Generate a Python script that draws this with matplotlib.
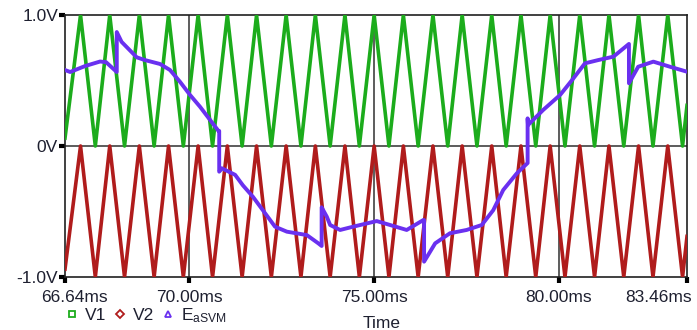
import matplotlib.pyplot as plt
import matplotlib.transforms as mtransforms
from matplotlib.lines import Line2D

plt.rcParams['font.family'] = ['Liberation Sans', 'DejaVu Sans']
plt.rcParams['mathtext.fontset'] = 'custom'
plt.rcParams['mathtext.rm'] = 'Liberation Sans'
plt.rcParams['mathtext.it'] = 'Liberation Sans'

# --- carrier vertices (ms) ---
carrier_t = [66.64, 67.06, 67.46, 67.85, 68.25, 68.65, 69.05, 69.44, 69.84,
             70.24, 70.63, 71.03, 71.43, 71.82, 72.22, 72.62, 73.02, 73.41,
             73.81, 74.21, 74.60, 75.00, 75.40, 75.79, 76.19, 76.59, 76.99,
             77.38, 77.78, 78.18, 78.57, 78.97, 79.37, 79.76, 80.16, 80.56,
             80.96, 81.35, 81.75, 82.15, 82.54, 82.94, 83.34, 83.46]
v1_vals = [0.06, 1, 0, 1, 0, 1, 0, 1, 0, 1, 0, 1, 0, 1, 0, 1, 0, 1, 0, 1, 0, 1,
           0, 1, 0, 1, 0, 1, 0, 1, 0, 1, 0, 1, 0, 1, 0, 1, 0, 1, 0, 1, 0, 0.31]
v2_vals = [-0.94, 0, -1, 0, -1, 0, -1, 0, -1, 0, -1, 0, -1, 0, -1, 0, -1, 0, -1,
           0, -1, 0, -1, 0, -1, 0, -1, 0, -1, 0, -1, 0, -1, 0, -1, 0, -1, 0, -1,
           0, -1, 0, -1, -0.69]

# --- E_aSVM trace ---
e_t = [66.64, 66.78, 67.18, 67.59, 67.75, 68.04, 68.04, 68.17, 68.58, 68.80,
       69.21, 69.48, 69.75, 70.02, 70.29, 70.56, 70.79, 70.81, 70.81, 70.88,
       71.24, 71.45, 71.72, 71.99, 72.32, 72.64, 73.18, 73.49, 73.58, 73.58,
       73.72, 73.81, 74.08, 74.43, 75.07, 75.43, 75.88, 76.33, 76.35, 76.35,
       76.65, 77.05, 77.50, 77.91, 78.22, 78.49, 78.86, 79.15, 79.15, 79.16,
       79.57, 80.03, 80.39, 80.70, 81.06, 81.47, 81.89, 81.89, 82.14, 82.55,
       83.00, 83.46]
e_vals = [0.58, 0.565, 0.61, 0.645, 0.64, 0.565, 0.87, 0.795, 0.677, 0.656,
          0.626, 0.58, 0.49, 0.39, 0.30, 0.20, 0.115, 0.115, -0.196, -0.17,
          -0.22, -0.30, -0.387, -0.49, -0.616, -0.654, -0.68, -0.743, -0.763, -0.468,
          -0.54, -0.603, -0.641, -0.616, -0.573, -0.603, -0.641, -0.565, -0.565, -0.883,
          -0.743, -0.666, -0.641, -0.603, -0.49, -0.336, -0.208, -0.13, 0.211, 0.16,
          0.275, 0.39, 0.517, 0.631, 0.656, 0.682, 0.779, 0.479, 0.605, 0.644,
          0.605, 0.567]

x_ticks = [66.64, 70.0, 75.0, 80.0, 83.46]
x_labels = ['66.64ms', '70.00ms', '75.00ms', '80.00ms', '83.46ms']
y_ticks = [-1.0, 0.0, 1.0]
y_labels = ['-1.0V', '0V', '1.0V']

green = '#1cac1c'
red = '#b01c1c'
purple = '#6a30f0'
txt = '#1e2030'
fs = 12.5

fig = plt.figure(figsize=(6.97, 3.30), dpi=100)
ax = fig.add_axes([65 / 697, 53 / 330, 622 / 697, 262 / 330])

ax.plot(carrier_t, v1_vals, color=green, lw=2.6, zorder=3)
ax.plot(carrier_t, v2_vals, color=red, lw=2.6, zorder=3)
ax.plot(e_t, e_vals, color=purple, lw=2.8, zorder=4)

for xv in [70.0, 75.0, 80.0]:
    ax.axvline(xv, color='#303030', lw=1.1, zorder=2)
ax.axhline(0, color='#303030', lw=1.1, zorder=2)

ax.set_xlim(66.64, 83.46)
ax.set_ylim(-1.0, 1.0)
ax.set_xticks(x_ticks)
ax.set_xticklabels(x_labels)
ax.set_yticks(y_ticks)
ax.set_yticklabels(y_labels)
ax.tick_params(axis='both', direction='out', length=4, width=3, color='black',
               labelsize=fs, labelcolor=txt)
ax.tick_params(axis='x', pad=5)
ax.tick_params(axis='y', pad=1)
for s in ax.spines.values():
    s.set_color('#202020')
    s.set_linewidth(1.2)

# end labels are pushed inward, like the simulator does
xl = ax.get_xticklabels()
xl[0].set_transform(xl[0].get_transform() +
                    mtransforms.ScaledTranslation(0.09, 0, fig.dpi_scale_trans))
xl[-1].set_transform(xl[-1].get_transform() +
                     mtransforms.ScaledTranslation(-0.28, 0, fig.dpi_scale_trans))

handles = [
    Line2D([], [], ls='none', marker='s', mfc='none', mec=green, ms=5, mew=1.3),
    Line2D([], [], ls='none', marker='D', mfc='none', mec=red, ms=4.5, mew=1.3),
    Line2D([], [], ls='none', marker='^', mfc='none', mec=purple, ms=5, mew=1.3),
]
labels = ['V1', 'V2', r'E$_{\mathrm{aSVM}}$']
fig.legend(handles, labels, loc='lower left', bbox_to_anchor=(59 / 697, -0.005),
           ncol=3, frameon=False, handlelength=0.7, handletextpad=0.4,
           columnspacing=0.45, fontsize=fs, borderaxespad=0, labelcolor=txt)
fig.text(382 / 697, -1 / 330, 'Time', ha='center', va='bottom', fontsize=fs, color=txt)

fig.savefig('out.png', dpi=100)
